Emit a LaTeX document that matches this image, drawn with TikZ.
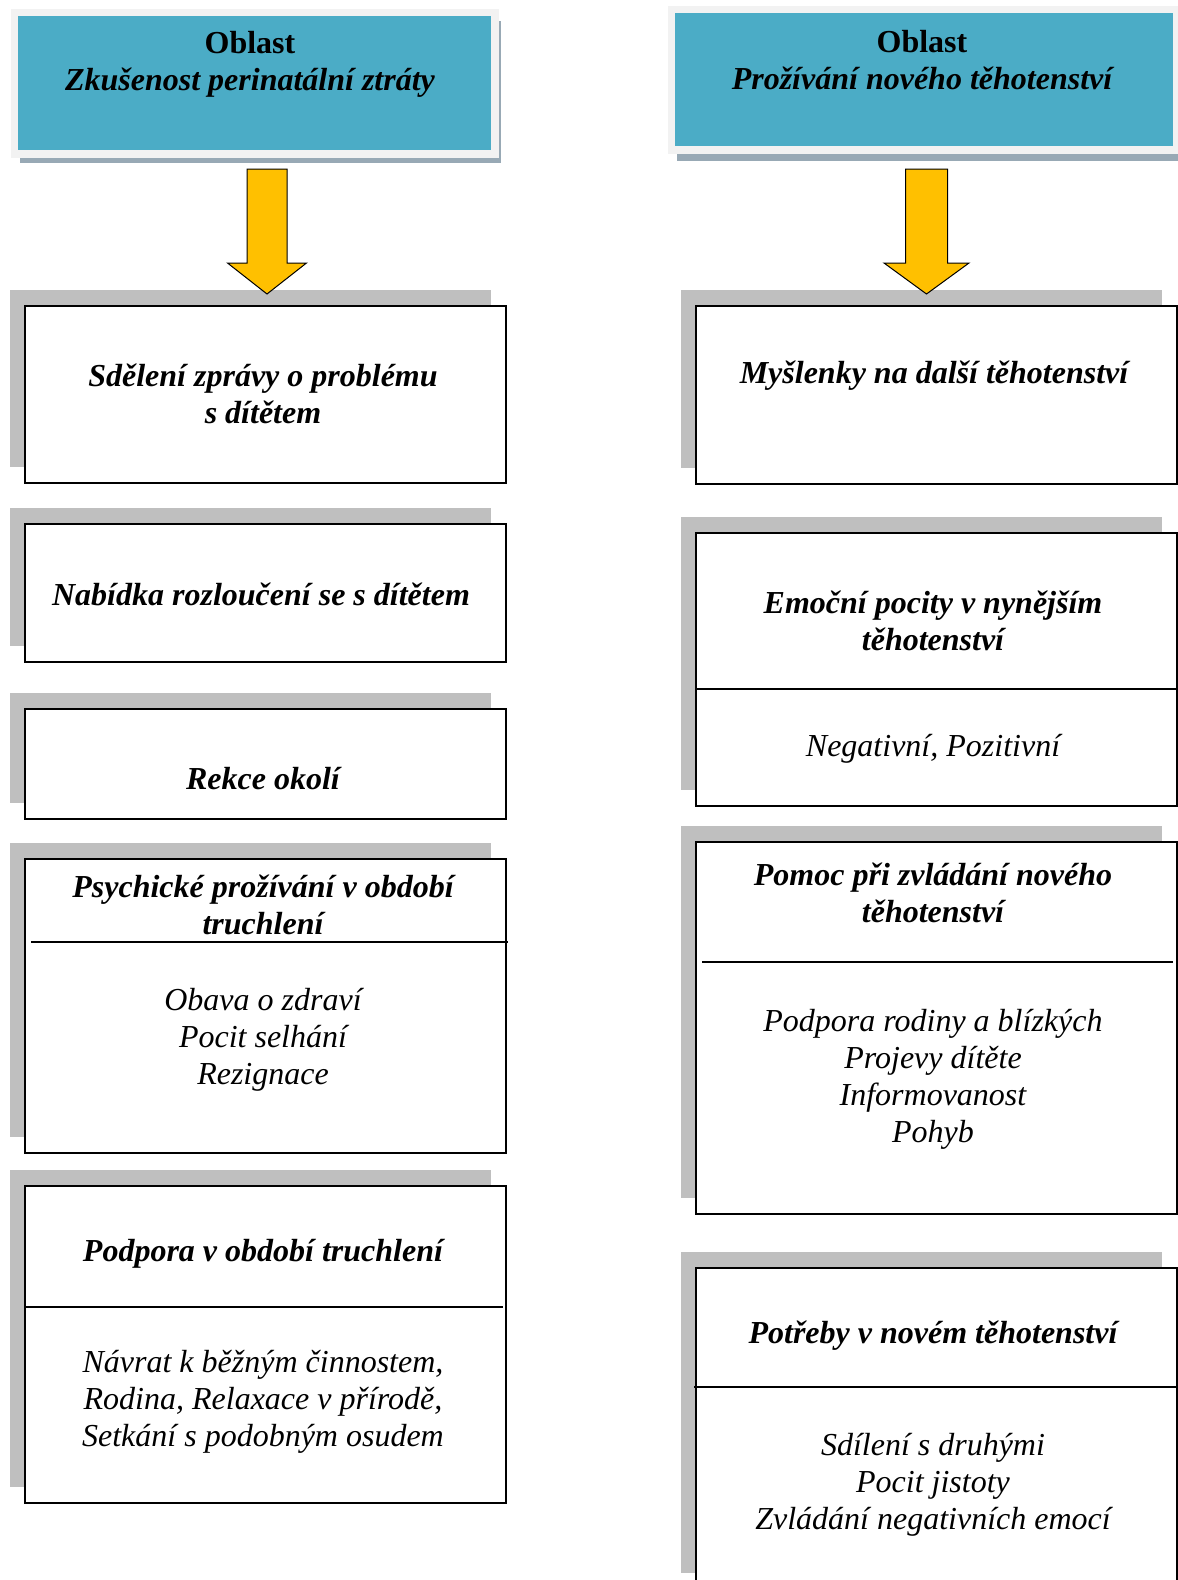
\documentclass[tikz,border=0pt]{standalone}
\usepackage{fontspec}
\setmainfont{Liberation Serif}
\usetikzlibrary{shadows}
\definecolor{oblastteal}{HTML}{4BACC6}
\definecolor{framegray}{HTML}{F2F2F2}
\definecolor{frameshadow}{HTML}{98A9B5}
\definecolor{boxshadow}{HTML}{BFBFBF}
\definecolor{arrowgold}{HTML}{FFC000}

\begin{document}
\begin{tikzpicture}[x=1pt,y=-1pt,
  oblast box/.style={rectangle,fill=oblastteal,draw=framegray,line width=7.5pt,anchor=north west,inner sep=0pt},
  stage box/.style={rectangle,draw,fill=white,line width=1.5pt,anchor=north west,minimum width=481pt,inner sep=0pt,
    drop shadow={shadow xshift=-15pt,shadow yshift=16pt,fill=boxshadow,opacity=1}},
  stage title/.style={font=\fontsize{32}{37}\selectfont\bfseries\itshape,align=center},
  stage items/.style={font=\fontsize{32}{37}\selectfont\itshape,align=center},
  divider/.style={line width=1.5pt},
  down arrow/.style={fill=arrowgold,draw=black,line width=1pt,line join=miter}]

  \useasboundingbox (0,0) rectangle (1178,1580);

  \node[oblast box,minimum width=480.5pt,minimum height=141.5pt,
    drop shadow={shadow xshift=5.75pt,shadow yshift=-8.75pt,fill=frameshadow,opacity=1}] (ztrata) at (10.75,8.75) {};
  \node[oblast box,minimum width=505.5pt,minimum height=140.5pt,
    drop shadow={shadow xshift=5pt,shadow yshift=-10.75pt,fill=frameshadow,opacity=1}] (tehotenstvi) at (667.75,5.75) {};
  \node[stage title] (ztrata text) at (250,64) {{\upshape Oblast}\\Zkušenost perinatální ztráty};
  \node[stage title] (tehotenstvi text) at (922,60) {{\upshape Oblast}\\Prožívání nového těhotenství};

  \node[stage box,minimum height=177pt] (sdeleni) at (24,305) {};
  \node[stage box,minimum height=138pt] (rozlouceni) at (24,523) {};
  \node[stage box,minimum height=110pt] (reakce) at (24,708) {};
  \node[stage box,minimum height=294pt] (prozivani) at (24,858) {};
  \node[stage box,minimum height=317pt] (podpora) at (24,1185) {};

  \node[stage box,minimum height=178pt] (myslenky) at (695,305) {};
  \node[stage box,minimum height=273pt] (emoce) at (695,532) {};
  \node[stage box,minimum height=372pt] (pomoc) at (695,841) {};
  \node[stage box,minimum height=321pt] (potreby) at (695,1267) {};

  \draw[divider] (31,942) -- (508,942);
  \draw[divider] (26,1307) -- (503,1307);
  \draw[divider] (697,689) -- (1178,689);
  \draw[divider] (702,962) -- (1173,962);
  \draw[divider] (694,1387) -- (1178,1387);

  \node[stage title] (sdeleni text) at (263,394) {Sdělení zprávy o problému\\s dítětem};
  \node[stage title] (rozlouceni text) at (261,594) {Nabídka rozloučení se s dítětem};
  \node[stage title] (reakce text) at (263,779) {Rekce okolí};
  \node[stage title] (prozivani text) at (263,905) {Psychické prožívání v období\\truchlení};
  \node[stage items] (prozivani items) at (263,1040) {Obava o zdraví\\Pocit selhání\\Rezignace};
  \node[stage title] (podpora text) at (263,1254) {Podpora v období truchlení};
  \node[stage items] (podpora items) at (263,1402) {Návrat k běžným činnostem,\\Rodina, Relaxace v přírodě,\\Setkání s podobným osudem};

  \node[stage title] (myslenky text) at (934,376) {Myšlenky na další těhotenství};
  \node[stage title] (emoce text) at (933,621) {Emoční pocity v nynějším\\těhotenství};
  \node[stage items] (emoce items) at (933,749) {Negativní, Pozitivní};
  \node[stage title] (pomoc text) at (933,893) {Pomoc při zvládání nového\\těhotenství};
  \node[stage items] (pomoc items) at (933,1079) {Podpora rodiny a blízkých\\Projevy dítěte\\Informovanost\\Pohyb};
  \node[stage title] (potreby text) at (933,1336) {Potřeby v novém těhotenství};
  \node[stage items] (potreby items) at (933,1485) {Sdílení s druhými\\Pocit jistoty\\Zvládání negativních emocí};

  \foreach \cx/\sw/\hw in {267/20/39.5, 926.5/21/42.5}
    \draw[down arrow] (\cx-\sw,169) -- (\cx+\sw,169) -- (\cx+\sw,263) -- (\cx+\hw,263)
      -- (\cx,294) -- (\cx-\hw,263) -- (\cx-\sw,263) -- cycle;
\end{tikzpicture}
\end{document}
